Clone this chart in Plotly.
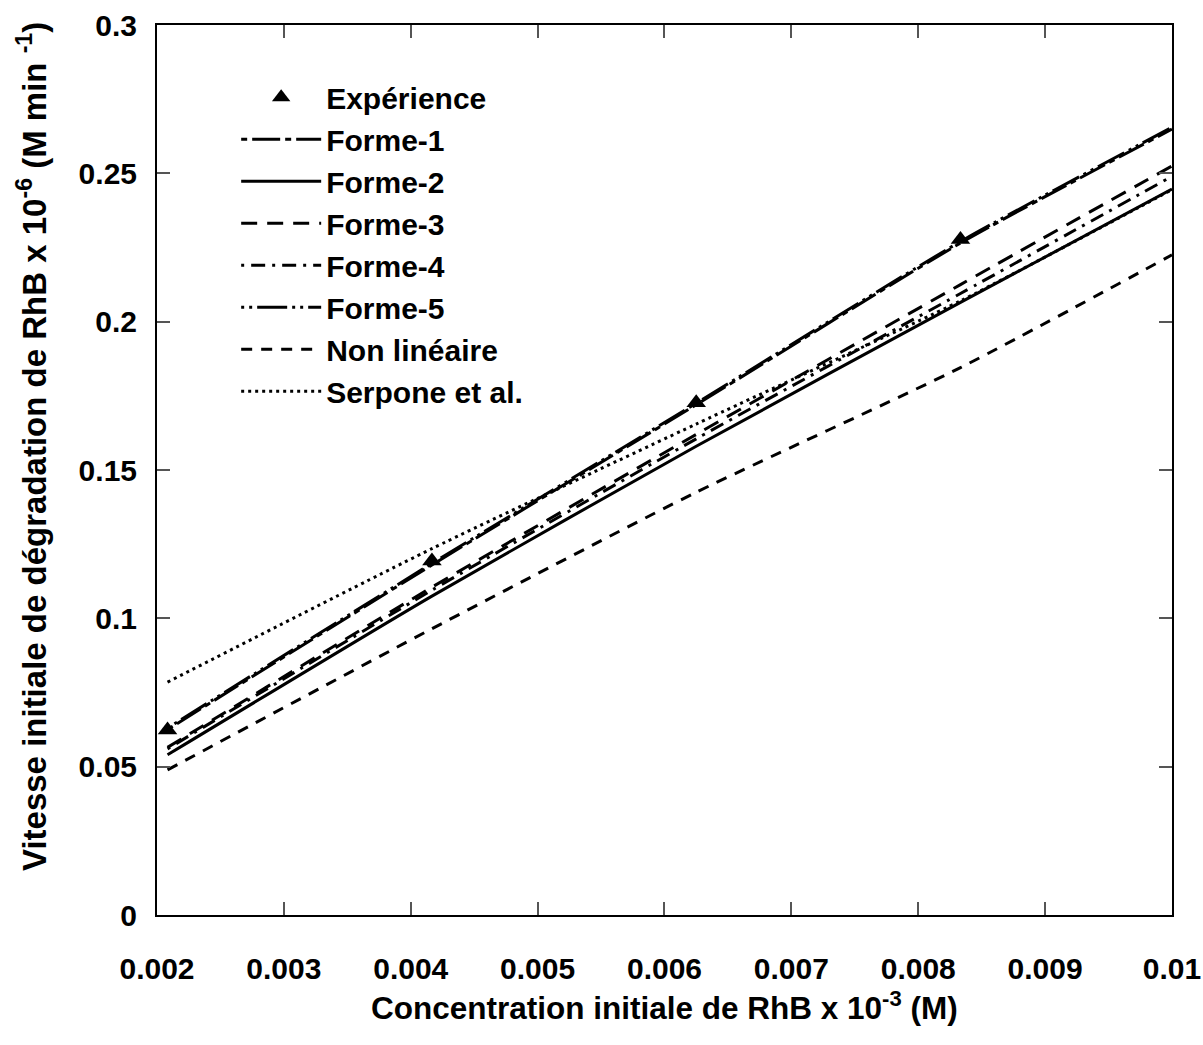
import plotly.graph_objects as go

# Initial RhB concentration (x 10^-3 M)
conc_exp = [0.002083, 0.004167, 0.00625, 0.008333]
rate_exp = [0.0624, 0.1193, 0.1727, 0.2277]

# Model curves evaluated on a common concentration grid
conc_fit = [0.002083, 0.004167, 0.00625, 0.008333, 0.01]
forme1 = [0.0625, 0.1180, 0.1720, 0.2265, 0.2649]
forme2 = [0.0540, 0.1075, 0.1580, 0.2065, 0.2447]
forme3 = [0.0565, 0.1105, 0.1620, 0.2125, 0.2525]
forme4 = [0.0560, 0.1095, 0.1605, 0.2095, 0.2490]
forme5 = [0.0630, 0.1185, 0.1725, 0.2270, 0.2655]
non_lineaire = [0.0489, 0.0965, 0.1425, 0.1845, 0.2225]
serpone = [0.0785, 0.1235, 0.1655, 0.2070, 0.2445]

x_ticks = [0.002, 0.003, 0.004, 0.005, 0.006, 0.007, 0.008, 0.009, 0.01]
x_ticktext = ["0.002", "0.003", "0.004", "0.005", "0.006", "0.007", "0.008", "0.009", "0.01"]
y_ticks = [0, 0.05, 0.1, 0.15, 0.2, 0.25, 0.3]
y_ticktext = ["0", "0.05", "0.1", "0.15", "0.2", "0.25", "0.3"]

x_title = "Concentration initiale de RhB x 10<sup>-3</sup> (M)"
y_title = "Vitesse initiale de dégradation de RhB x 10<sup>-6</sup> (M min <sup>-1</sup>)"

FONT = "Liberation Sans, Arial, sans-serif"
LW = 3


def bold(size):
    return dict(family=FONT, size=size, color="black", weight="bold")


fig = go.Figure()

fig.add_trace(go.Scatter(
    x=conc_exp, y=rate_exp, mode="markers", name="Expérience",
    marker=dict(symbol="triangle-up", size=17, color="black"),
))

curves = [
    ("Forme-1", forme1, "6px,5px,28px,5px"),
    ("Forme-2", forme2, "solid"),
    ("Forme-3", forme3, "16px,10px"),
    ("Forme-4", forme4, "3px,7px,14px,7px"),
    ("Forme-5", forme5, "3px,5px,3px,5px,30px,5px"),
    ("Non linéaire", non_lineaire, "11px,9px"),
    ("Serpone et al.", serpone, "3px,4px"),
]
for name, ys, dash in curves:
    fig.add_trace(go.Scatter(
        x=conc_fit, y=ys, mode="lines", name=name,
        line=dict(color="black", width=LW, dash=dash, shape="spline", smoothing=0.6),
    ))

axis_common = dict(
    showline=True, linecolor="black", linewidth=2, mirror="ticks",
    ticks="inside", ticklen=13, tickwidth=1.5, tickcolor="#555",
    showgrid=False, zeroline=False, automargin=False,
    tickfont=bold(30),
)

fig.update_layout(
    width=1203, height=1045,
    margin=dict(l=157, r=31, t=25, b=130),
    paper_bgcolor="white", plot_bgcolor="white",
    font=bold(30),
    xaxis=dict(
        range=[0.002, 0.0100001], tickvals=x_ticks, ticktext=x_ticktext,
        ticklabelstandoff=26,
        **axis_common,
    ),
    yaxis=dict(
        range=[0, 0.3000001], tickvals=y_ticks, ticktext=y_ticktext,
        ticklabelstandoff=12,
        **axis_common,
    ),
    legend=dict(
        x=0.078, y=0.948, xanchor="left", yanchor="top",
        bgcolor="rgba(0,0,0,0)", borderwidth=0,
        font=bold(30),
        itemwidth=80, tracegroupgap=0,
    ),
    showlegend=True,
    annotations=[
        dict(text=x_title, xref="paper", yref="paper", x=0.5, y=-0.102,
             xanchor="center", yanchor="middle", showarrow=False, font=bold(31.5)),
        dict(text=y_title, xref="paper", yref="paper", x=-0.123, y=0.526,
             xanchor="center", yanchor="middle", textangle=-90, showarrow=False,
             font=bold(33)),
    ],
)

fig.write_html("out.html")
